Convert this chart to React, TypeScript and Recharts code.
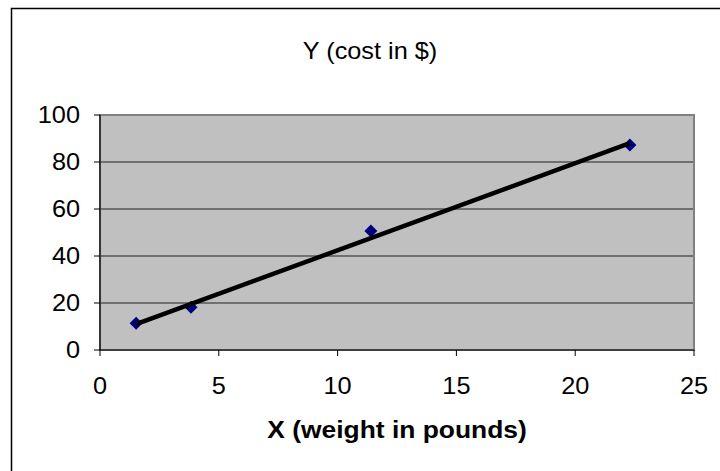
import React from 'react'
import {
  ScatterChart,
  Scatter,
  XAxis,
  YAxis,
  CartesianGrid,
  ReferenceArea,
  Customized,
} from 'recharts'

// weight (lb) vs cost ($)
const weights = [1.52, 3.83, 11.4, 22.3]
const costs = [11.4, 18.2, 50.6, 87.2]

// linear trend line end points
const trendX = [1.52, 22.3]
const trendY = [11.0, 88.0]

const xTicks = [0, 5, 10, 15, 20, 25]
const yTicks = [0, 20, 40, 60, 80, 100]

const points = weights.map((w, i) => ({ x: w, y: costs[i] }))
const trend = trendX.map((x, i) => ({ x, y: trendY[i] }))

const FONT = '"Liberation Sans", Arial, Helvetica, sans-serif'

// Excel-ish text: slightly wide glyphs
function WideText({ x, y, anchor = 'middle', size = 23, bold = false, dy, children }: any) {
  return (
    <text
      transform={`translate(${x},${y}) scale(1.1,1)`}
      textAnchor={anchor}
      fontSize={size}
      fontWeight={bold ? 700 : 400}
      fontFamily={FONT}
      fill="#000"
      dy={dy}
    >
      {children}
    </text>
  )
}

const YTick = (props: any) => (
  <WideText x={props.x} y={props.y} anchor="end" dy="0.36em">
    {props.payload.value}
  </WideText>
)

const XTick = (props: any) => (
  <WideText x={props.x} y={props.y} anchor="middle" dy="0.71em">
    {props.payload.value}
  </WideText>
)

const Diamond = (props: any) => {
  const { cx, cy } = props
  const r = 6.5
  return (
    <path
      d={`M${cx},${cy - r} L${cx + r},${cy} L${cx},${cy + r} L${cx - r},${cy} Z`}
      fill="#000080"
    />
  )
}

const NoShape = () => null

// trend line drawn straight from the scatter's projected points
const TrendLine = (props: any) => {
  const pts = props.points || []
  if (pts.length < 2) return null
  const d = pts.map((p: any, i: number) => `${i ? 'L' : 'M'}${p.x},${p.y}`).join(' ')
  return <path d={d} fill="none" stroke="#000" strokeWidth={4.5} />
}

export default function App() {
  return (
    <div style={{ position: 'absolute', left: 0, top: 0, width: 720, height: 471, background: '#fff' }}>
      <ScatterChart
        width={720}
        height={471}
        margin={{ top: 115, right: 26, bottom: 81, left: 40 }}
      >
        {/* chart frame */}
        <Customized
          component={() => (
            <g>
              <rect x={11.5} y={8.5} width={760} height={500} fill="none" stroke="#000" strokeWidth={1.5} />
              <WideText x={370} y={59}>Y (cost in $)</WideText>
            </g>
          )}
        />
        <CartesianGrid
          fill="#C0C0C0"
          vertical={false}
          stroke="#202020"
          strokeWidth={1}
          horizontalValues={[20, 40, 60, 80]}
          horizontal={{ shapeRendering: 'crispEdges' } as any}
        />
        <ReferenceArea
          x1={0}
          x2={25}
          y1={0}
          y2={100}
          fill="none"
          stroke="#808080"
          strokeWidth={2}
          ifOverflow="visible"
        />
        <XAxis
          type="number"
          dataKey="x"
          domain={[0, 25]}
          ticks={xTicks}
          height={40}
          axisLine={{ stroke: '#000', strokeWidth: 1.2 }}
          tickLine={{ stroke: '#000', strokeWidth: 1 }}
          tickSize={6}
          tickMargin={22}
          tick={<XTick />}
          interval={0}
          label={{
            content: (p: any) => {
              const vb = p.viewBox
              return (
                <WideText x={vb.x + vb.width / 2} y={438} size={24} bold>
                  X (weight in pounds)
                </WideText>
              )
            },
          }}
        />
        <YAxis
          type="number"
          dataKey="y"
          domain={[0, 100]}
          ticks={yTicks}
          width={60}
          axisLine={{ stroke: '#000', strokeWidth: 1.2 }}
          tickLine={{ stroke: '#000', strokeWidth: 1 }}
          tickSize={6}
          tickMargin={14}
          tick={<YTick />}
          interval={0}
        />
        <Scatter data={points} shape={<Diamond />} isAnimationActive={false} />
        <Scatter
          data={trend}
          line={<TrendLine />}
          shape={<NoShape />}
          isAnimationActive={false}
        />
      </ScatterChart>
    </div>
  )
}
